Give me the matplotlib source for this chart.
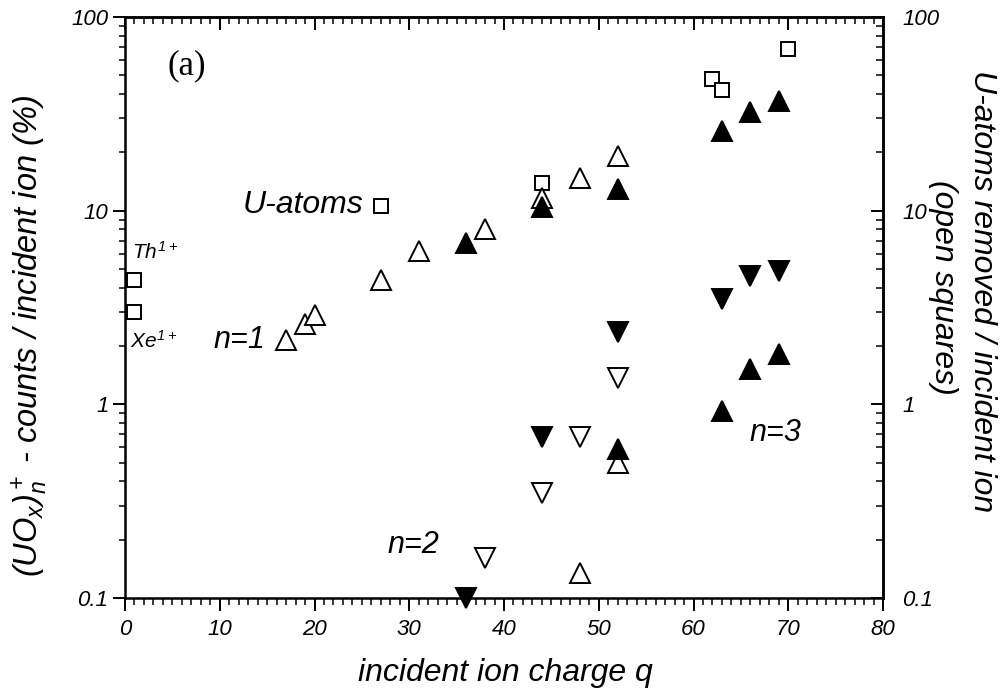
import matplotlib
matplotlib.use("Agg")
import matplotlib.pyplot as plt
from matplotlib.ticker import MultipleLocator, LogLocator, NullFormatter, FixedLocator, FixedFormatter

plt.rcParams['font.family'] = ['Liberation Sans', 'DejaVu Sans']
plt.rcParams['font.style'] = 'italic'
plt.rcParams['mathtext.fontset'] = 'custom'
plt.rcParams['mathtext.rm'] = 'Liberation Sans:italic'
plt.rcParams['mathtext.it'] = 'Liberation Sans:italic'

# ---- data ----
sq_q = [1, 1, 27, 44, 62, 63, 70]
sq_v = [4.4, 3.0, 10.6, 13.9, 48, 42, 68]

n1_open_q = [17, 19, 20, 27, 31, 38, 44, 48, 52]
n1_open_v = [2.15, 2.6, 2.9, 4.4, 6.2, 8.0, 11.6, 14.8, 19.2]
n1_fill_q = [36, 44, 52, 63, 66, 69]
n1_fill_v = [6.8, 10.4, 13.0, 25.8, 32.5, 37.0]

n2_fill_q = [36, 44, 52, 63, 66, 69]
n2_fill_v = [0.10, 0.68, 2.35, 3.5, 4.6, 4.9]
n2_open_q = [38, 44, 48, 52]
n2_open_v = [0.16, 0.35, 0.68, 1.37]

n3_fill_q = [52, 63, 66, 69]
n3_fill_v = [0.59, 0.92, 1.52, 1.82]
n3_open_q = [48, 52]
n3_open_v = [0.134, 0.50]

x_ticks = [0, 10, 20, 30, 40, 50, 60, 70, 80]
y_ticks = [0.1, 1, 10, 100]
y_ticklabels = ['0.1', '1', '10', '100']

W, H = 1001, 691
fig = plt.figure(figsize=(W / 100, H / 100), dpi=100)
ax = fig.add_axes([125 / W, 1 - 598 / H, (883 - 125) / W, (598 - 17) / H])

ax.set_xscale('linear')
ax.set_yscale('log')
ax.set_xlim(0, 80)
ax.set_ylim(0.1, 100)

ms_tri = 14.5
mew = 1.4
ax.plot(sq_q, sq_v, 's', ms=10.5, mfc='white', mec='black', mew=mew, clip_on=False, zorder=3)
ax.plot(n1_open_q, n1_open_v, '^', ms=ms_tri, mfc='white', mec='black', mew=mew, clip_on=False, zorder=3)
ax.plot(n1_fill_q, n1_fill_v, '^', ms=ms_tri, mfc='black', mec='black', mew=mew, clip_on=False, zorder=4)
ax.plot(n2_open_q, n2_open_v, 'v', ms=ms_tri, mfc='white', mec='black', mew=mew, clip_on=False, zorder=3)
ax.plot(n2_fill_q, n2_fill_v, 'v', ms=ms_tri, mfc='black', mec='black', mew=mew, clip_on=False, zorder=4)
ax.plot(n3_open_q, n3_open_v, '^', ms=ms_tri, mfc='white', mec='black', mew=mew, clip_on=False, zorder=3)
ax.plot(n3_fill_q, n3_fill_v, '^', ms=ms_tri, mfc='black', mec='black', mew=mew, clip_on=False, zorder=4)

for s in ax.spines.values():
    s.set_linewidth(1.8)

# bottom / left ticks (outward)
ax.xaxis.set_major_locator(FixedLocator(x_ticks))
ax.xaxis.set_minor_locator(MultipleLocator(1))
ax.yaxis.set_major_locator(FixedLocator(y_ticks))
ax.yaxis.set_major_formatter(FixedFormatter(y_ticklabels))
ax.yaxis.set_minor_locator(LogLocator(base=10, subs=range(2, 10)))
ax.yaxis.set_minor_formatter(NullFormatter())
ax.tick_params(axis='x', which='major', direction='out', length=9, width=1.4, pad=6, labelsize=16)
ax.tick_params(axis='x', which='minor', direction='out', length=5, width=1.1)
ax.tick_params(axis='y', which='major', direction='out', length=9, width=1.4, pad=3, labelsize=16)
ax.tick_params(axis='y', which='minor', direction='out', length=4.5, width=1.1)

# top axis (inward ticks, no labels)
axt = ax.secondary_xaxis('top')
axt.xaxis.set_major_locator(FixedLocator(x_ticks))
axt.xaxis.set_minor_locator(MultipleLocator(1))
axt.tick_params(axis='x', which='major', direction='in', length=9, width=1.4, labeltop=False)
axt.tick_params(axis='x', which='minor', direction='in', length=5, width=1.1)
axt.spines['top'].set_linewidth(1.8)

# right axis (inward ticks, labels)
axr = ax.secondary_yaxis('right')
axr.yaxis.set_major_locator(FixedLocator(y_ticks))
axr.yaxis.set_major_formatter(FixedFormatter(y_ticklabels))
axr.yaxis.set_minor_locator(LogLocator(base=10, subs=range(2, 10)))
axr.yaxis.set_minor_formatter(NullFormatter())
axr.tick_params(axis='y', which='major', direction='in', length=9, width=1.4, pad=14, labelsize=16)
axr.tick_params(axis='y', which='minor', direction='in', length=5, width=1.1)
axr.spines['right'].set_linewidth(1.8)

def px(x, y):
    return x / W, 1 - y / H

# axis labels
fig.text(*px(505, 673), 'incident ion charge q', ha='center', va='center', fontsize=23)
fig.text(*px(30, 336), r'$(UO_x)^+_n$ - counts / incident ion (%)', ha='center', va='center',
         rotation=90, fontsize=23.5)
fig.text(*px(982, 291), 'U-atoms removed / incident ion', ha='center', va='center',
         rotation=270, fontsize=23)
fig.text(*px(943, 287), '(open squares)', ha='center', va='center',
         rotation=270, fontsize=23)

# annotations
fig.text(*px(187, 66), '(a)', ha='center', va='center', fontsize=25,
         family=['Liberation Serif', 'DejaVu Serif'], style='normal')
fig.text(*px(243, 205), 'U-atoms', ha='left', va='center', fontsize=23)
fig.text(*px(132, 252), r'$Th^{1+}$', ha='left', va='center', fontsize=15)
fig.text(*px(130, 341), r'$Xe^{1+}$', ha='left', va='center', fontsize=15)
fig.text(*px(214, 340), 'n=1', ha='left', va='center', fontsize=22)
fig.text(*px(387, 545), 'n=2', ha='left', va='center', fontsize=22)
fig.text(*px(749, 433), 'n=3', ha='left', va='center', fontsize=22)

fig.savefig('out.png', dpi=100)
